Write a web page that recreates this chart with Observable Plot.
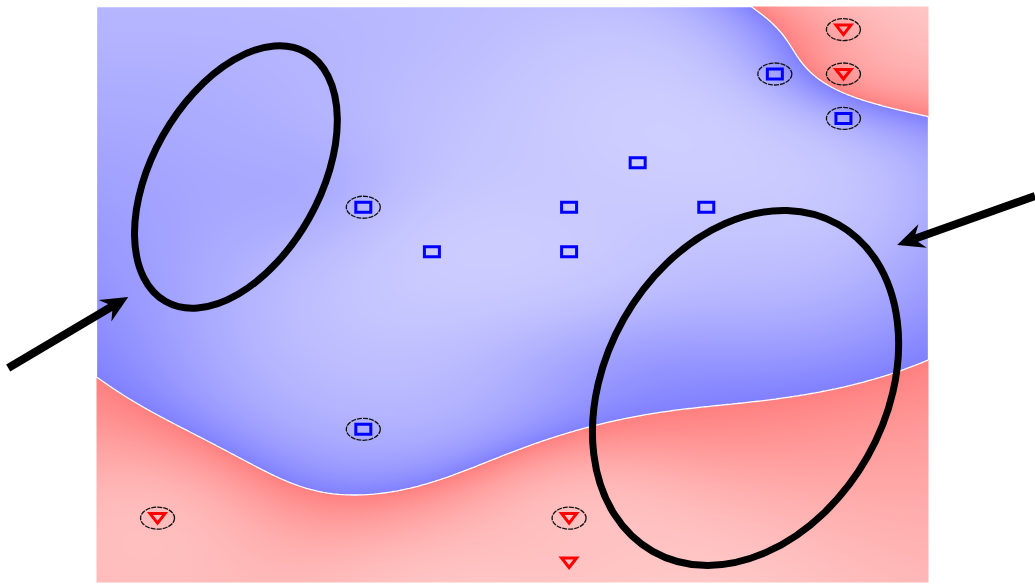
<!DOCTYPE html>
<html><head><meta charset="utf-8">
<script src="https://cdn.jsdelivr.net/npm/d3@7"></script>
<script src="https://cdn.jsdelivr.net/npm/@observablehq/plot@0.6"></script>
<style>body{margin:0;background:#fff} #chart svg{display:block}</style>
</head><body><div id="chart"></div>
<script>
// ---- data: class "blue" (squares) and class "red" (triangles); sv = support vector (circled)
const blueX=[9,10,7,3,6,8,4,6,3];
const blueY=[11,10,9,8,8,8,7,7,3];
const blueSV=[1,1,0,1,0,0,0,0,1];
const redX=[10,10,0,6,6];
const redY=[12,11,1,1,0];
const redSV=[1,1,1,1,0];
// decision boundary
const lowerX=[-0.89,-0.41,0.09,0.57,1.05,1.55,2.03,2.51,3.00,3.49,3.97,4.46,4.94,5.48,5.98,6.46,7.44,8.40,9.38,10.35,10.84,11.23];
const lowerY=[3.98,3.76,3.26,2.81,2.48,2.07,1.78,1.58,1.55,1.55,1.78,2.07,2.36,2.68,2.90,3.13,3.38,3.58,3.80,4.05,4.28,4.48];
const upperX=[8.69,8.98,9.23,9.38,9.52,9.70,9.92,10.21,10.54,10.84,11.23];
const upperY=[12.49,12.04,11.68,11.41,11.08,10.74,10.58,10.47,10.33,10.22,10.00];
// decision values read from the shading
const shadeX=[-0.89,-0.89,11.24,11.24,-0.89,11.24,5,6.5,11.24,1,3,-0.10,2.09,5.0,1.36,4.56,7.92,10.11,0.63,5.0,8.65,2.09,8.65,10.84,3.54,8.65,-0.10];
const shadeY=[12.52,8,7,-0.45,-0.45,12.52,12.5,9.5,9,11,5,11.53,11.53,11.53,7.02,5.22,5.90,5.90,4.10,3.65,4.10,1.28,2.52,0.05,-0.18,1.40,8.15];
const shadeF=[0.6,0.45,0.35,-1.7,-1.8,-1.7,1.0,2.5,0.6,0.7,1.3,0.59,0.89,1.33,0.78,1.54,1.01,0.19,0.31,0.44,0.14,-0.14,-0.25,-1.33,-1.5,-0.59,0.51];
// annotations (data coordinates)
const ellipseX=[1.15,8.58];
const ellipseY=[8.67,3.92];
const arrowX1=[-2.17,12.80], arrowY1=[4.37,8.24];
const arrowX2=[-0.42,10.79], arrowY2=[5.97,7.14];

const xDomain=[-0.89,11.24], yDomain=[-0.45,12.52];
const ellipseStyle=[{rx:84,ry:143,angle:29.4},{rx:140,ry:188,angle:29.6}];

const pts=[...blueX.map((x,i)=>({x,y:blueY[i],label:1,sv:blueSV[i]})),...redX.map((x,i)=>({x,y:redY[i],label:-1,sv:redSV[i]}))];

// ---- RBF decision function fitted to the points, boundary and shading
function solve(A,bv){const n=A.length;const M=A.map((r,i)=>[...r,bv[i]]);
  for(let c=0;c<n;c++){let p=c;for(let r=c+1;r<n;r++)if(Math.abs(M[r][c])>Math.abs(M[p][c]))p=r;[M[c],M[p]]=[M[p],M[c]];
    for(let r=0;r<n;r++){if(r===c)continue;const f=M[r][c]/M[c][c];for(let k=c;k<=n;k++)M[r][k]-=f*M[c][k];}}
  return M.map((r,i)=>r[n]/r[i]);}
function fit(gammas,lambda,wb,ws){
  const feats=(x,y)=>{const v=[];for(const g of gammas)for(const c of pts)v.push(Math.exp(-g*((x-c.x)**2+(y-c.y)**2)));v.push(1,x/10,y/10);return v;};
  const rows=[],tg=[],w=[];
  lowerX.forEach((x,i)=>{rows.push(feats(x,lowerY[i]));tg.push(0);w.push(wb);});
  upperX.forEach((x,i)=>{rows.push(feats(x,upperY[i]));tg.push(0);w.push(wb);});
  pts.forEach(p=>{rows.push(feats(p.x,p.y));tg.push(p.sv?p.label:p.label*(p.label>0?2:1.6));w.push(ws);});
  shadeX.forEach((x,i)=>{rows.push(feats(x,shadeY[i]));tg.push(shadeF[i]);w.push(ws);});
  const m=rows[0].length;const A=[],bv=[];
  for(let a=0;a<m;a++){A.push(new Array(m).fill(0));bv.push(0);}
  rows.forEach((r,k)=>{for(let a=0;a<m;a++){bv[a]+=w[k]*r[a]*tg[k];for(let b=0;b<m;b++)A[a][b]+=w[k]*r[a]*r[b];}});
  for(let a=0;a<m;a++)A[a][a]+=lambda;
  const beta=solve(A,bv);
  return (x,y)=>{const v=feats(x,y);let s=0;for(let i=0;i<m;i++)s+=beta[i]*v[i];return s;};
}
const f=fit([0.1,0.35],5e-4,40,0.7);
const shade=v=>Math.sign(v)*(1-Math.exp(-Math.abs(v)/0.9));

// ---- symbols
const rectSym={draw(c){c.moveTo(-7.5,-5);c.lineTo(7.5,-5);c.lineTo(7.5,5);c.lineTo(-7.5,5);c.closePath();}};
const triSym={draw(c){c.moveTo(-7.5,-4.5);c.lineTo(7.5,-4.5);c.lineTo(0,5);c.closePath();}};
const ringSym={draw(c){const rx=17,ry=11,k=0.5523;c.moveTo(rx,0);c.bezierCurveTo(rx,k*ry,k*rx,ry,0,ry);c.bezierCurveTo(-k*rx,ry,-rx,k*ry,-rx,0);c.bezierCurveTo(-rx,-k*ry,-k*rx,-ry,0,-ry);c.bezierCurveTo(k*rx,-ry,rx,-k*ry,rx,0);c.closePath();}};

function ellipseMark(index,{x,y}){
  const g=d3.create("svg:g");
  ellipseX.forEach((cx,i)=>{const s=ellipseStyle[i];
    g.append("ellipse").attr("rx",s.rx).attr("ry",s.ry)
     .attr("transform",`translate(${x(cx)},${y(ellipseY[i])}) rotate(${s.angle})`)
     .attr("fill","none").attr("stroke","black").attr("stroke-width",7);});
  return g.node();
}
function arrowMark(index,{x,y}){
  const g=d3.create("svg:g");
  arrowX1.forEach((x1,i)=>{
    const ax=x(x1),ay=y(arrowY1[i]),bx=x(arrowX2[i]),by=y(arrowY2[i]);
    const L=Math.hypot(bx-ax,by-ay),ux=(bx-ax)/L,uy=(by-ay)/L,nx=-uy,ny=ux;
    const hl=27,hw=12.5,nd=18;
    g.append("line").attr("x1",ax).attr("y1",ay).attr("x2",bx-ux*nd).attr("y2",by-uy*nd)
      .attr("stroke","black").attr("stroke-width",8);
    const p=[[bx,by],[bx-ux*hl+nx*hw,by-uy*hl+ny*hw],[bx-ux*nd,by-uy*nd],[bx-ux*hl-nx*hw,by-uy*hl-ny*hw]];
    g.append("path").attr("d","M"+p.map(q=>q.join(",")).join("L")+"Z").attr("fill","black");
  });
  return g.node();
}

const chart=Plot.plot({
  width:1035,height:585,marginLeft:96,marginRight:107,marginTop:6,marginBottom:3,
  x:{domain:xDomain,axis:null},y:{domain:yDomain,axis:null},
  color:{type:"linear",domain:[-1,-1e-6,1e-6,1],range:["#ffd3d3","#ff8080","#8080ff","#d3d3ff"],clamp:true},
  marks:[
    Plot.raster({x1:xDomain[0],x2:xDomain[1],y1:yDomain[0],y2:yDomain[1],fill:(x,y)=>shade(f(x,y)),pixelSize:1}),
    Plot.contour({x1:xDomain[0],x2:xDomain[1],y1:yDomain[0],y2:yDomain[1],value:(x,y)=>f(x,y),thresholds:[0],stroke:"white",strokeWidth:1.3,fill:"none"}),
    Plot.dot(pts.filter(d=>d.sv),{x:"x",y:"y",symbol:ringSym,fill:"none",stroke:"#111",strokeWidth:1.3,strokeDasharray:"5,1"}),
    Plot.dot(pts.filter(d=>d.label>0),{x:"x",y:"y",symbol:rectSym,fill:"none",stroke:"#0000ff",strokeWidth:3}),
    Plot.dot(pts.filter(d=>d.label<0),{x:"x",y:"y",symbol:triSym,fill:"none",stroke:"#ff0000",strokeWidth:3}),
    ellipseMark,
    arrowMark
  ]
});
document.getElementById("chart").appendChild(chart);
</script></body></html>
